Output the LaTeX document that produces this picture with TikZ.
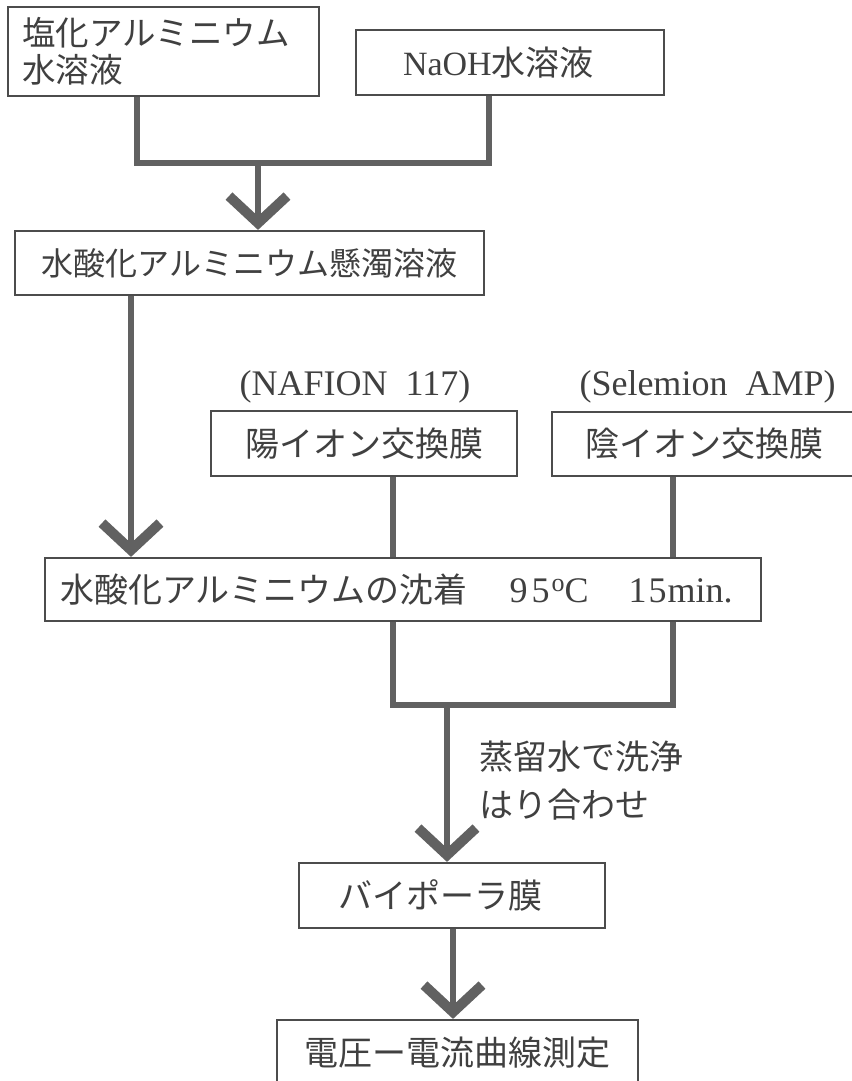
\documentclass[tikz,border=0pt]{standalone}
\usepackage{fontspec}
\setmainfont{Liberation Serif}
\newfontfamily\jp{Noto Sans CJK JP}
\usetikzlibrary{arrows.meta}
\begin{document}
\begin{tikzpicture}[x=1pt,y=-1pt,
  box/.style={draw=black!70, line width=2.2pt, minimum height=65pt, inner sep=0pt,
    text=black!75, font=\fontsize{34}{37}\selectfont\jp},
  conn/.style={draw=black!62, line width=6pt},
  arr/.style={conn, -{Straight Barb[length=27pt,width=58pt,line width=10pt]}},
  lbl/.style={text=black!75, font=\fontsize{36}{40}\selectfont\rmfamily}
]
\useasboundingbox[fill=white] (0,0) rectangle (851,1081);

% boxes
\node[box, minimum width=311pt, minimum height=89pt, text width=283pt, align=left,
  font=\fontsize{33.5}{37}\selectfont\jp] (b1) at (163.5,51.5) {塩化アルミニウム\\水溶液};
\node[box, minimum width=308pt, text width=214pt, align=left] (b2) at (510,62.5)
  {{\fontsize{34}{37}\selectfont\rmfamily NaOH}水溶液};
\node[box, minimum width=469pt, minimum height=64pt, font=\fontsize{32}{37}\selectfont\jp]
  (b3) at (249.5,263) {水酸化アルミニウム懸濁溶液};
\node[box, minimum width=306pt] (b4) at (364,443.5) {陽イオン交換膜};
\node[box, minimum width=304pt, minimum height=64pt] (b5) at (704,444) {陰イオン交換膜};
\node[box, minimum width=716pt, minimum height=63pt, text width=686pt, align=left]
  (b6) at (403,589.5)
  {水酸化アルミニウムの沈着\hspace{42pt}{\fontsize{36}{37}\selectfont\rmfamily 9\kern4pt5\kern2pt\raisebox{11pt}{\fontsize{26}{26}\selectfont o}C\hspace{40pt}1\kern2pt5\kern1pt min.}};
\node[box, minimum width=306pt, text width=228pt, align=left] (b7) at (452,895.5) {バイポーラ膜};
\node[box, minimum width=361pt, minimum height=66pt]
  (b8) at (457.5,1053) {電圧ー電流曲線測定};

% labels
\node[lbl] (nafion) at (355,387) {(NAFION\ \ 117)};
\node[lbl] (selemion) at (707.5,387) {(Selemion\ \ AMP)};
\node[anchor=west, align=left, text=black!75, font=\fontsize{34}{48}\selectfont\jp]
  (wash) at (476,781) {蒸留水で洗浄\\はり合わせ};

% junction coordinates
\coordinate (m1) at (137,163);
\coordinate (m2) at (489,163);
\coordinate (m3) at (258,163);
\coordinate (xa) at (131,0);
\coordinate (xl) at (393,0);
\coordinate (xr) at (673,0);
\coordinate (m4) at (393,705);
\coordinate (m5) at (673,705);
\coordinate (m6) at (447,705);
\coordinate (xb) at (453,0);

% connectors
\draw[conn] (b1.south -| m1) -- (m1) -- (m2) -- (b2.south -| m2);
\draw[arr] (m3) -- (b3.north -| m3);
\draw[arr] (b3.south -| xa) -- (b6.north -| xa);
\draw[conn] (b4.south -| xl) -- (b6.north -| xl);
\draw[conn] (b5.south -| xr) -- (b6.north -| xr);
\draw[conn] (b6.south -| m4) -- (m4) -- (m5) -- (b6.south -| m5);
\draw[arr] (m6) -- (b7.north -| m6);
\draw[arr] (b7.south -| xb) -- (b8.north -| xb);
\end{tikzpicture}
\end{document}
